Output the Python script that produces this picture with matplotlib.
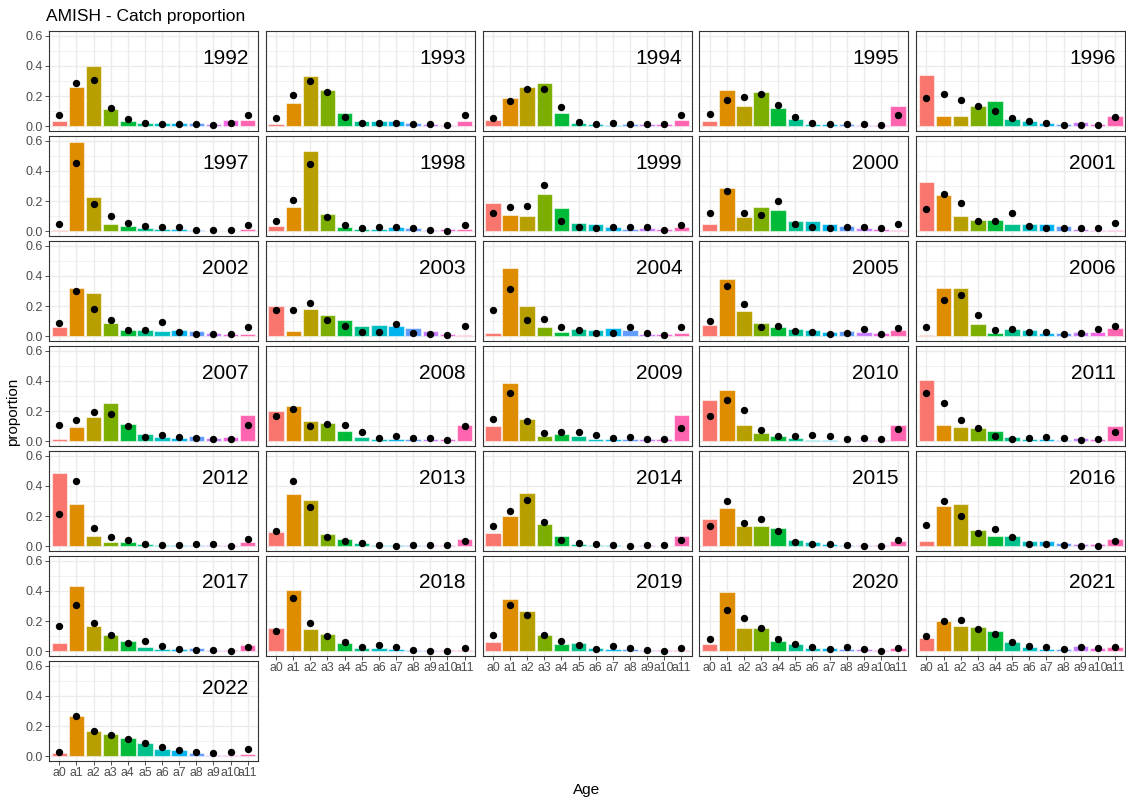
import matplotlib
matplotlib.use('Agg')
import matplotlib.pyplot as plt
from matplotlib.ticker import MultipleLocator

plt.rcParams['font.family'] = ['Liberation Sans', 'DejaVu Sans']

ages = ['a0', 'a1', 'a2', 'a3', 'a4', 'a5', 'a6', 'a7', 'a8', 'a9', 'a10', 'a11']
years = list(range(1992, 2023))

# bars (catch proportion per age, one row per year)
bar_vals = [
    [0.037, 0.26, 0.40, 0.114, 0.037, 0.026, 0.02, 0.02, 0.02, 0.015, 0.04, 0.045],   # 1992
    [0.015, 0.158, 0.33, 0.24, 0.088, 0.035, 0.033, 0.033, 0.022, 0.018, 0.01, 0.035],  # 1993
    [0.044, 0.19, 0.26, 0.29, 0.09, 0.02, 0.013, 0.01, 0.013, 0.013, 0.015, 0.04],      # 1994
    [0.033, 0.24, 0.135, 0.225, 0.124, 0.05, 0.018, 0.015, 0.013, 0.012, 0.01, 0.135],  # 1995
    [0.34, 0.07, 0.07, 0.138, 0.167, 0.05, 0.036, 0.022, 0.018, 0.03, 0.016, 0.07],     # 1996
    [0.011, 0.59, 0.227, 0.051, 0.033, 0.024, 0.016, 0.013, 0.007, 0.004, 0.004, 0.018],  # 1997
    [0.038, 0.162, 0.533, 0.116, 0.031, 0.018, 0.016, 0.031, 0.02, 0.011, 0.013, 0.018],  # 1998
    [0.19, 0.11, 0.10, 0.25, 0.158, 0.058, 0.051, 0.029, 0.013, 0.02, 0.018, 0.027],    # 1999
    [0.051, 0.29, 0.093, 0.164, 0.144, 0.071, 0.071, 0.049, 0.033, 0.024, 0.013, 0.011],  # 2000
    [0.324, 0.238, 0.10, 0.073, 0.073, 0.051, 0.047, 0.047, 0.033, 0.013, 0.007, 0.011],  # 2001
    [0.062, 0.322, 0.289, 0.089, 0.044, 0.04, 0.036, 0.042, 0.033, 0.024, 0.013, 0.018],  # 2002
    [0.204, 0.036, 0.184, 0.144, 0.111, 0.067, 0.073, 0.067, 0.053, 0.036, 0.016, 0.009],  # 2003
    [0.022, 0.451, 0.204, 0.064, 0.029, 0.049, 0.04, 0.056, 0.04, 0.016, 0.016, 0.02],   # 2004
    [0.073, 0.38, 0.171, 0.087, 0.06, 0.047, 0.044, 0.029, 0.036, 0.031, 0.02, 0.044],   # 2005
    [0.009, 0.322, 0.322, 0.08, 0.022, 0.049, 0.044, 0.022, 0.022, 0.027, 0.029, 0.056],  # 2006
    [0.016, 0.098, 0.162, 0.256, 0.118, 0.047, 0.027, 0.02, 0.033, 0.024, 0.029, 0.173],  # 2007
    [0.204, 0.231, 0.136, 0.124, 0.069, 0.031, 0.016, 0.013, 0.018, 0.018, 0.018, 0.109],  # 2008
    [0.104, 0.389, 0.149, 0.038, 0.047, 0.033, 0.013, 0.013, 0.013, 0.018, 0.018, 0.173],  # 2009
    [0.271, 0.338, 0.111, 0.058, 0.038, 0.024, 0.011, 0.011, 0.004, 0.007, 0.009, 0.109],  # 2010
    [0.404, 0.109, 0.098, 0.089, 0.069, 0.031, 0.018, 0.018, 0.011, 0.022, 0.018, 0.10],  # 2011
    [0.482, 0.28, 0.069, 0.031, 0.031, 0.016, 0.011, 0.007, 0.009, 0.007, 0.007, 0.031],  # 2012
    [0.098, 0.344, 0.304, 0.084, 0.047, 0.024, 0.011, 0.009, 0.011, 0.011, 0.009, 0.047],  # 2013
    [0.087, 0.202, 0.351, 0.147, 0.071, 0.018, 0.011, 0.007, 0.004, 0.007, 0.004, 0.067],  # 2014
    [0.184, 0.256, 0.133, 0.138, 0.124, 0.044, 0.027, 0.013, 0.011, 0.007, 0.009, 0.033],  # 2015
    [0.033, 0.267, 0.282, 0.111, 0.067, 0.071, 0.033, 0.033, 0.022, 0.013, 0.013, 0.047],  # 2016
    [0.056, 0.433, 0.169, 0.107, 0.069, 0.029, 0.018, 0.018, 0.022, 0.011, 0.011, 0.044],  # 2017
    [0.158, 0.407, 0.151, 0.113, 0.056, 0.024, 0.024, 0.013, 0.009, 0.007, 0.007, 0.011],  # 2018
    [0.062, 0.344, 0.269, 0.111, 0.047, 0.053, 0.022, 0.018, 0.018, 0.011, 0.011, 0.011],  # 2019
    [0.049, 0.393, 0.158, 0.158, 0.067, 0.049, 0.02, 0.022, 0.016, 0.018, 0.007, 0.022],  # 2020
    [0.091, 0.204, 0.167, 0.16, 0.138, 0.062, 0.031, 0.018, 0.016, 0.038, 0.024, 0.029],  # 2021
    [0.02, 0.27, 0.17, 0.15, 0.12, 0.09, 0.05, 0.04, 0.02, 0.01, 0.01, 0.015],           # 2022
]

# points (black dots)
dot_vals = [
    [0.075, 0.29, 0.305, 0.12, 0.046, 0.026, 0.018, 0.018, 0.018, 0.012, 0.022, 0.075],  # 1992
    [0.053, 0.21, 0.30, 0.226, 0.06, 0.02, 0.02, 0.02, 0.015, 0.015, 0.01, 0.075],      # 1993
    [0.058, 0.165, 0.25, 0.25, 0.13, 0.03, 0.016, 0.022, 0.016, 0.013, 0.013, 0.073],   # 1994
    [0.082, 0.175, 0.193, 0.213, 0.142, 0.062, 0.022, 0.016, 0.018, 0.013, 0.011, 0.075],  # 1995
    [0.19, 0.215, 0.173, 0.135, 0.10, 0.058, 0.038, 0.02, 0.011, 0.011, 0.009, 0.064],  # 1996
    [0.049, 0.449, 0.182, 0.104, 0.056, 0.033, 0.031, 0.029, 0.011, 0.007, 0.007, 0.044],  # 1997
    [0.067, 0.207, 0.444, 0.098, 0.042, 0.024, 0.027, 0.027, 0.024, 0.009, 0.004, 0.04],  # 1998
    [0.124, 0.16, 0.169, 0.304, 0.071, 0.031, 0.024, 0.027, 0.031, 0.027, 0.009, 0.044],  # 1999
    [0.124, 0.264, 0.12, 0.109, 0.20, 0.047, 0.029, 0.022, 0.027, 0.029, 0.02, 0.049],  # 2000
    [0.151, 0.249, 0.189, 0.071, 0.067, 0.122, 0.038, 0.024, 0.02, 0.022, 0.022, 0.058],  # 2001
    [0.087, 0.302, 0.178, 0.111, 0.044, 0.042, 0.098, 0.029, 0.016, 0.013, 0.016, 0.062],  # 2002
    [0.173, 0.173, 0.218, 0.107, 0.071, 0.029, 0.031, 0.082, 0.024, 0.013, 0.009, 0.069],  # 2003
    [0.173, 0.313, 0.111, 0.116, 0.062, 0.04, 0.022, 0.024, 0.062, 0.02, 0.011, 0.062],  # 2004
    [0.104, 0.336, 0.216, 0.062, 0.069, 0.038, 0.031, 0.018, 0.022, 0.049, 0.016, 0.058],  # 2005
    [0.062, 0.238, 0.271, 0.14, 0.044, 0.049, 0.031, 0.029, 0.016, 0.02, 0.049, 0.067],  # 2006
    [0.107, 0.144, 0.196, 0.182, 0.10, 0.029, 0.044, 0.029, 0.024, 0.013, 0.016, 0.109],  # 2007
    [0.171, 0.213, 0.104, 0.116, 0.111, 0.06, 0.022, 0.038, 0.024, 0.02, 0.011, 0.104],  # 2008
    [0.149, 0.32, 0.138, 0.053, 0.062, 0.06, 0.044, 0.02, 0.027, 0.018, 0.018, 0.091],  # 2009
    [0.171, 0.276, 0.207, 0.076, 0.033, 0.038, 0.044, 0.036, 0.013, 0.02, 0.016, 0.084],  # 2010
    [0.318, 0.256, 0.144, 0.091, 0.036, 0.013, 0.022, 0.029, 0.02, 0.009, 0.013, 0.06],  # 2011
    [0.216, 0.433, 0.122, 0.06, 0.04, 0.016, 0.007, 0.011, 0.018, 0.013, 0.004, 0.047],  # 2012
    [0.10, 0.431, 0.258, 0.062, 0.033, 0.024, 0.007, 0.004, 0.007, 0.011, 0.007, 0.038],  # 2013
    [0.133, 0.236, 0.309, 0.162, 0.044, 0.024, 0.016, 0.009, 0.004, 0.009, 0.009, 0.042],  # 2014
    [0.138, 0.30, 0.158, 0.182, 0.104, 0.027, 0.016, 0.013, 0.007, 0.002, 0.004, 0.04],  # 2015
    [0.144, 0.302, 0.198, 0.091, 0.113, 0.064, 0.016, 0.013, 0.011, 0.004, 0.004, 0.036],  # 2016
    [0.167, 0.304, 0.191, 0.107, 0.053, 0.069, 0.038, 0.013, 0.007, 0.007, 0.004, 0.027],  # 2017
    [0.133, 0.353, 0.191, 0.102, 0.062, 0.031, 0.04, 0.031, 0.011, 0.004, 0.004, 0.024],  # 2018
    [0.111, 0.304, 0.24, 0.111, 0.069, 0.044, 0.018, 0.036, 0.024, 0.007, 0.004, 0.024],  # 2019
    [0.08, 0.273, 0.222, 0.156, 0.08, 0.047, 0.031, 0.018, 0.031, 0.018, 0.002, 0.024],  # 2020
    [0.104, 0.202, 0.209, 0.149, 0.116, 0.06, 0.038, 0.031, 0.018, 0.029, 0.02, 0.031],  # 2021
    [0.03, 0.27, 0.165, 0.14, 0.115, 0.09, 0.06, 0.04, 0.03, 0.02, 0.03, 0.05],          # 2022
]

# ggplot default hue palette, 12 levels
colors = ['#F8766D', '#DE8C00', '#B79F00', '#7CAE00', '#00BA38', '#00C08B',
          '#00BFC4', '#00B4F0', '#619CFF', '#C77CFF', '#F564E3', '#FF64B0']

W, H = 1126, 801
fig = plt.figure(figsize=(W / 100, H / 100), dpi=100)

left0, top0 = 49, 31
pw, ph = 209, 100
xstep, ystep = 216.8, 105
ncol = 5
x = list(range(len(ages)))

for i, yr in enumerate(years):
    r, c = divmod(i, ncol)
    l = left0 + c * xstep
    t = top0 + r * ystep
    ax = fig.add_axes([l / W, 1 - (t + ph) / H, pw / W, ph / H])
    ax.set_facecolor('white')
    ax.bar(x, bar_vals[i], width=0.9, color=colors, edgecolor=(1, 1, 1, 0.55),
           linewidth=0.8, zorder=2)
    ax.scatter(x, dot_vals[i], s=28, color='black', zorder=3, linewidths=0)
    ax.set_xlim(-0.6, 11.6)
    ax.set_ylim(-0.03, 0.63)
    ax.yaxis.set_major_locator(MultipleLocator(0.2))
    ax.yaxis.set_minor_locator(MultipleLocator(0.1))
    ax.set_xticks(x)
    ax.grid(True, which='major', color='#EBEBEB', linewidth=1.0, zorder=0)
    ax.grid(True, which='minor', axis='y', color='#EBEBEB', linewidth=0.5, zorder=0)
    ax.set_axisbelow(True)
    for sp in ax.spines.values():
        sp.set_color('#333333')
        sp.set_linewidth(0.8)
    ax.tick_params(which='minor', length=0)
    ax.tick_params(which='major', length=3, width=0.6, color='#333333',
                   labelsize=9, labelcolor='#4D4D4D', pad=1.5)
    if c == 0:
        ax.set_yticks([0, 0.2, 0.4, 0.6])
        ax.set_yticklabels(['0.0', '0.2', '0.4', '0.6'])
    else:
        ax.tick_params(axis='y', which='both', left=False, labelleft=False)
    is_bottom = (i + ncol >= len(years))
    if is_bottom:
        ax.set_xticklabels(ages, fontsize=8.8)
    else:
        ax.tick_params(axis='x', bottom=False, labelbottom=False)
    ax.text(0.955, 0.73, str(yr), transform=ax.transAxes, ha='right', va='center',
            fontsize=15, color='black')

fig.text(46 / W, 1 - 17 / H, 'AMISH - Catch proportion', ha='left', va='center',
         fontsize=12.5, color='black')
fig.text(13 / W, 1 - 412 / H, 'proportion', rotation=90, ha='center', va='center',
         fontsize=11, color='black')
fig.text(587 / W, 1 - 790 / H, 'Age', ha='center', va='center', fontsize=11, color='black')

fig.savefig('out.png', dpi=100)
plt.close(fig)
